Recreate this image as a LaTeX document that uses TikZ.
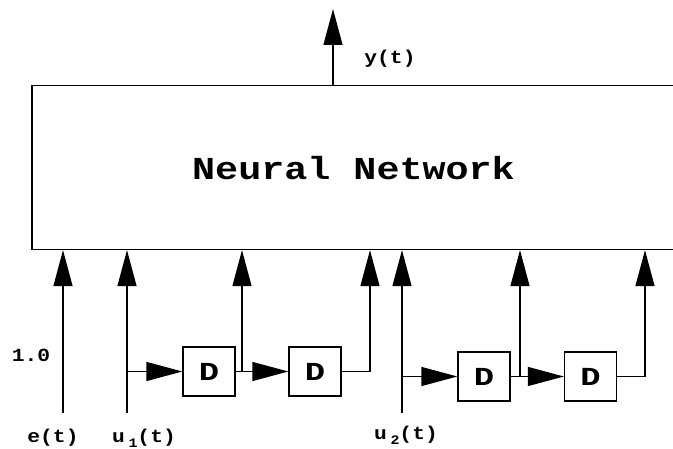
\documentclass[tikz,border=0pt]{standalone}
\usepackage{fontspec}
\newfontfamily\cour{Liberation Mono}
\usetikzlibrary{arrows.meta}
\tikzset{
  x=1pt, y=-1pt,
  line/.style={line width=1.3pt},
  arr/.style={line width=1.3pt, -{Triangle[length=36pt,width=19pt]}},
  dbox/.style={draw, line width=1.3pt, minimum width=52pt, minimum height=49pt, inner sep=0pt,
    font=\cour\bfseries\fontsize{26}{28}\selectfont},
  lbl/.style={inner sep=0pt, font=\cour\bfseries\fontsize{18.5}{20}\selectfont},
}
\newcommand{\sbs}[1]{\,\raisebox{-0.25em}{\fontsize{13}{13}\selectfont #1}}
\newcommand{\wide}[1]{\scalebox{1.15}[1]{#1}}
\begin{document}
\begin{tikzpicture}
\useasboundingbox (0,0) rectangle (673,449);
\clip (0,0) rectangle (673,449);
% main box
\node[draw, line width=1.3pt, minimum width=645pt, minimum height=164pt, inner sep=0pt] (NN) at (354.5,167.5) {};
\node[inner sep=0pt, font=\cour\bfseries\fontsize{32}{36}\selectfont] (title) at (353.5,168) {\scalebox{1.2}[1]{Neural Network}};
% output
\coordinate (yout) at (333,9);
\draw[arr] (NN.north -| yout) -- (yout);
\node[lbl] (ylbl) at (390,59) {\wide{y(t)}};
% e(t)
\coordinate (e0) at (63,413);
\draw[arr] (e0) -- (e0 |- NN.south);
\node[lbl] (elbl) at (53,438) {\wide{e(t)}};
\node[lbl] (one) at (31,355) {\wide{1.0}};
% u1
\coordinate (u1) at (127,413);
\draw[arr] (u1) -- (u1 |- NN.south);
\node[lbl] (u1lbl) at (144,438) {\wide{u\sbs{1}(t)}};
\node[dbox] (D1) at (209,371.5) {\scalebox{1.3}[1]{D}};
\node[dbox] (D2) at (315,371.5) {\scalebox{1.3}[1]{D}};
\coordinate (b1) at (u1 |- D1);
\coordinate (j1) at (242,371.5);
\coordinate (j2) at (370,371.5);
\draw[arr] (b1) -- (D1.west);
\draw[line] (D1.east) -- (j1);
\draw[arr] (j1) -- (j1 |- NN.south);
\draw[arr] (j1) -- (D2.west);
\draw[arr] (D2.east) -- (j2) -- (j2 |- NN.south);
% u2
\coordinate (u2) at (402,413);
\draw[arr] (u2) -- (u2 |- NN.south);
\node[lbl] (u2lbl) at (406,435) {\wide{u\sbs{2}(t)}};
\node[dbox] (D3) at (484,376.5) {\scalebox{1.3}[1]{D}};
\node[dbox] (D4) at (590.5,376.5) {\scalebox{1.3}[1]{D}};
\coordinate (b2) at (u2 |- D3);
\coordinate (j3) at (520,376.5);
\coordinate (j4) at (645,376.5);
\draw[arr] (b2) -- (D3.west);
\draw[line] (D3.east) -- (j3);
\draw[arr] (j3) -- (j3 |- NN.south);
\draw[arr] (j3) -- (D4.west);
\draw[arr] (D4.east) -- (j4) -- (j4 |- NN.south);
\end{tikzpicture}
\end{document}
